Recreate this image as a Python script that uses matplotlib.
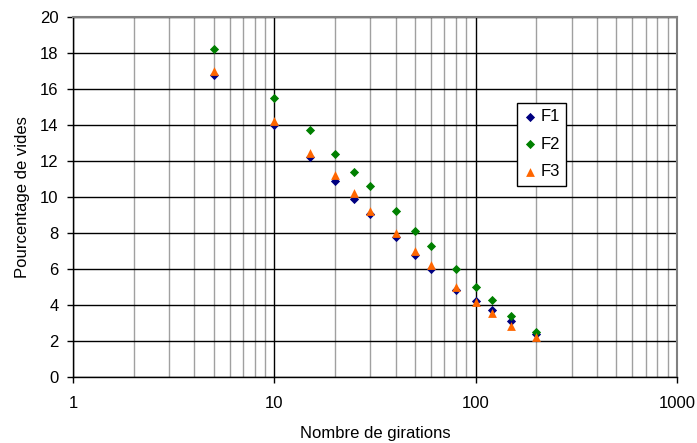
import matplotlib
matplotlib.use("Agg")
import matplotlib.pyplot as plt
from matplotlib.ticker import LogLocator, FixedLocator, NullFormatter

plt.rcParams['font.family'] = ['Liberation Sans', 'DejaVu Sans']

girations = [5, 10, 15, 20, 25, 30, 40, 50, 60, 80, 100, 120, 150, 200]
f1 = [16.8, 14.0, 12.2, 10.9, 9.9, 9.05, 7.8, 6.8, 6.0, 4.85, 4.25, 3.7, 3.1, 2.4]
f2 = [18.2, 15.5, 13.7, 12.4, 11.4, 10.6, 9.2, 8.1, 7.3, 6.0, 5.0, 4.3, 3.4, 2.5]
f3 = [17.0, 14.2, 12.45, 11.2, 10.2, 9.25, 8.0, 7.0, 6.2, 5.0, 4.15, 3.55, 2.85, 2.25]
y_ticks = [0, 2, 4, 6, 8, 10, 12, 14, 16, 18, 20]
x_ticks = [1, 10, 100, 1000]
x_ticklabels = ["1", "10", "100", "1000"]

fig = plt.figure(figsize=(6.97, 4.43), dpi=100)
ax = fig.add_axes([73/697, 1-377/443, 604/697, 360/443])

ax.set_xscale('log')
ax.set_xlim(1, 1000)
ax.set_ylim(0, 20)

ax.xaxis.set_major_locator(FixedLocator(x_ticks))
ax.set_xticklabels(x_ticklabels)
ax.xaxis.set_minor_locator(LogLocator(base=10, subs=range(2, 10)))
ax.xaxis.set_minor_formatter(NullFormatter())
ax.set_yticks(y_ticks)

ax.grid(True, which='major', axis='both', color='black', linewidth=1.0)
ax.grid(True, which='minor', axis='x', color='#a0a0a0', linewidth=1.0)
ax.set_axisbelow(True)

ax.scatter(girations, f1, marker='D', s=22, color='#000080', label='F1', zorder=3, linewidths=0)
ax.scatter(girations, f2, marker='D', s=22, color='#008000', label='F2', zorder=3, linewidths=0)
ax.scatter(girations, f3, marker='^', s=40, color='#ff6600', label='F3', zorder=4, linewidths=0)

for side in ['top', 'right']:
    ax.spines[side].set_color('#808080')
    ax.spines[side].set_linewidth(1.5)
for side in ['left', 'bottom']:
    ax.spines[side].set_color('black')
    ax.spines[side].set_linewidth(1.0)

ax.tick_params(axis='both', which='major', direction='out', length=4.5, width=1,
               labelsize=12, color='black')
ax.tick_params(axis='x', which='major', pad=9)
ax.tick_params(axis='y', which='major', pad=6)
ax.tick_params(axis='x', which='minor', length=0)

ax.set_xlabel('Nombre de girations', fontsize=12, labelpad=11)
ax.set_ylabel('Pourcentage de vides', fontsize=12, labelpad=7)

leg = ax.legend(loc='upper left', bbox_to_anchor=(0.735, 0.762), frameon=True,
                fancybox=False, edgecolor='black', framealpha=1, fontsize=12,
                handletextpad=0.2, handlelength=0.8, borderpad=0.4, labelspacing=0.75,
                borderaxespad=0, scatterpoints=1)
leg.get_frame().set_linewidth(1.0)

fig.savefig('out.png', dpi=100)
